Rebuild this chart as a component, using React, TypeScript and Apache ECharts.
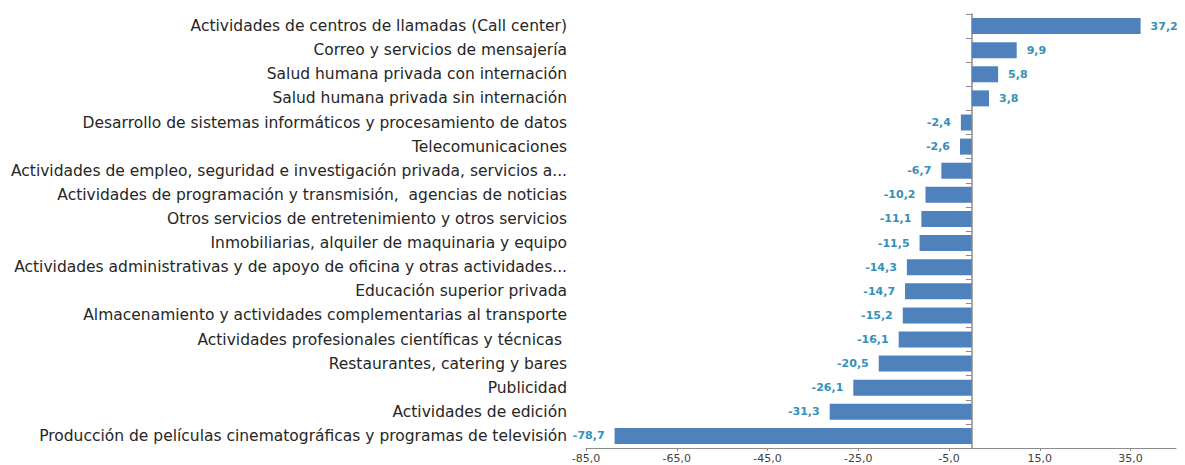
import React, { useEffect, useRef } from "react";
import * as echarts from "echarts";

const categories: string[] = [
  "Actividades de centros de llamadas (Call center)",
  "Correo y servicios de mensajería",
  "Salud humana privada con internación",
  "Salud humana privada sin internación",
  "Desarrollo de sistemas informáticos y procesamiento de datos",
  "Telecomunicaciones",
  "Actividades de empleo, seguridad e investigación privada, servicios a...",
  "Actividades de programación y transmisión,  agencias de noticias",
  "Otros servicios de entretenimiento y otros servicios",
  "Inmobiliarias, alquiler de maquinaria y equipo",
  "Actividades administrativas y de apoyo de oficina y otras actividades...",
  "Educación superior privada",
  "Almacenamiento y actividades complementarias al transporte",
  "Actividades profesionales científicas y técnicas ",
  "Restaurantes, catering y bares",
  "Publicidad",
  "Actividades de edición",
  "Producción de películas cinematográficas y programas de televisión",
];

const values: number[] = [
  37.2, 9.9, 5.8, 3.8, -2.4, -2.6, -6.7, -10.2, -11.1, -11.5, -14.3, -14.7,
  -15.2, -16.1, -20.5, -26.1, -31.3, -78.7,
];

const xTicks: number[] = [-85, -65, -45, -25, -5, 15, 35];
const xMin = -85;
const xMax = 45;

const fmt = (v: number) => v.toFixed(1).replace(".", ",");

export default function App() {
  const ref = useRef<HTMLDivElement>(null);
  useEffect(() => {
    if (!ref.current) return;
    const chart = echarts.init(ref.current, null, { renderer: "svg" });
    const axisColor = "#8c8c8c";
    chart.setOption({
      animation: false,
      backgroundColor: "#ffffff",
      grid: { left: 586, right: 9, top: 14, bottom: 17, containLabel: false },
      xAxis: {
        type: "value",
        min: xMin,
        max: xMax,
        splitLine: { show: false },
        axisLine: { show: true, lineStyle: { color: axisColor, width: 1 } },
        axisTick: {
          show: true,
          length: 3,
          customValues: xTicks,
          lineStyle: { color: axisColor },
        },
        axisLabel: {
          customValues: xTicks,
          formatter: (v: number) => fmt(v),
          color: "#404040",
          fontSize: 11,
          fontFamily: "DejaVu Sans",
          margin: 5,
        },
      },
      yAxis: [
        {
          type: "category",
          data: categories,
          inverse: true,
          position: "left",
          axisLine: { show: false, onZero: false },
          axisTick: { show: false },
          axisLabel: {
            color: "#262626",
            fontSize: 15.5,
            fontFamily: "DejaVu Sans",
            margin: 19,
            interval: 0,
            padding: [0, 0, 6, 0],
          },
        },
        {
          type: "category",
          data: categories,
          inverse: true,
          position: "left",
          axisLine: {
            show: true,
            onZero: true,
            lineStyle: { color: axisColor, width: 1.5 },
          },
          axisTick: { show: true, length: 6, lineStyle: { color: axisColor } },
          axisLabel: { show: false },
        },
      ],
      series: [
        {
          type: "bar",
          yAxisIndex: 0,
          barWidth: 16,
          itemStyle: { color: "#4f81bd" },
          data: values.map((v) => ({
            value: v,
            label: { position: v >= 0 ? "right" : "left" },
          })),
          label: {
            show: true,
            distance: 10,
            formatter: (p: any) => fmt(p.value),
            color: "#3590b8",
            fontWeight: "bold",
            fontSize: 11,
            fontFamily: "DejaVu Sans",
            padding: [5, 0, 0, 0],
          },
        },
      ],
    });
    return () => chart.dispose();
  }, []);
  return (
    <div
      ref={ref}
      style={{ position: "fixed", left: 0, top: 0, width: 1185, height: 465 }}
    />
  );
}
